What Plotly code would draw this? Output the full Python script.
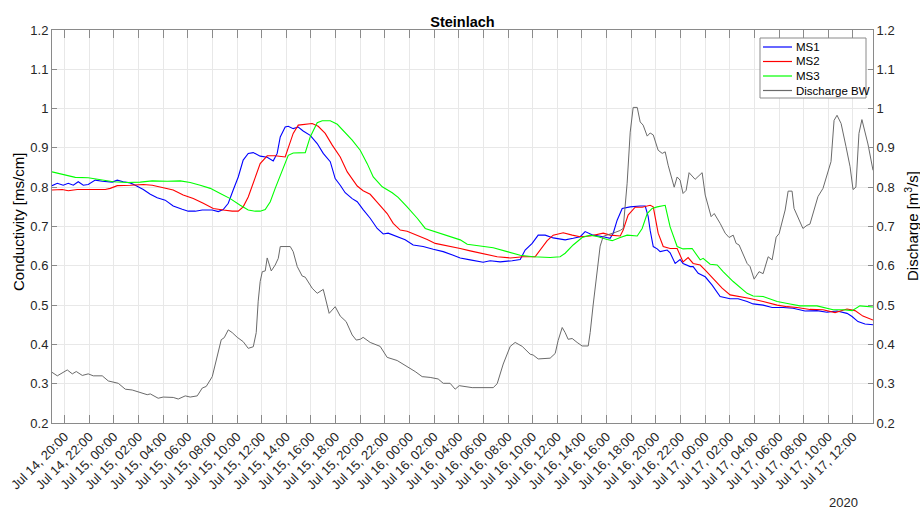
import pandas as pd
import plotly.graph_objects as go

# time axis: hours relative to 2020-07-14 20:00
BASE = "2020-07-14 20:00"

ms1_h = [-1.02, -0.59, -0.11, 0.30, 0.71, 1.11, 1.52, 1.92, 2.49, 3.06, 3.87, 4.28, 4.76, 5.33, 5.74, 6.39,
         6.96, 7.52, 8.17, 8.82, 9.55, 10.04, 10.61, 11.18, 11.99, 12.48, 12.88, 13.29, 13.69, 14.10, 14.50,
         14.91, 15.32, 15.88, 16.45, 16.94, 17.26, 17.51, 17.91, 18.16, 18.56, 18.97, 19.37, 19.94, 20.51,
         21.00, 21.57, 21.97, 22.38, 22.78, 23.35, 23.76, 24.24, 24.81, 25.38, 25.87, 26.27, 27.00, 27.65,
         28.30, 29.11, 29.93, 30.74, 31.55, 32.12, 32.93, 33.98, 34.55, 35.36, 36.34, 36.99, 37.39, 37.96,
         38.45, 39.02, 39.67, 40.64, 41.29, 41.86, 42.26, 42.51, 42.91, 43.73, 44.29, 44.54, 44.86, 45.27,
         45.92, 46.73, 47.14, 47.38, 47.54, 47.79, 48.11, 48.35, 48.92, 49.16, 49.57, 49.97, 50.21, 50.79,
         51.03, 51.44, 52.01, 52.57, 53.22, 54.03, 54.68, 55.41, 55.90, 56.71, 57.44, 58.34, 59.14, 60.11,
         61.08, 61.90, 62.71, 63.52, 63.93, 64.41, 64.98, 65.63]
ms1_v = [0.804, 0.810, 0.805, 0.810, 0.805, 0.814, 0.805, 0.807, 0.818, 0.815, 0.813, 0.818, 0.814, 0.811, 0.805, 0.794,
         0.782, 0.773, 0.767, 0.752, 0.744, 0.739, 0.739, 0.742, 0.742, 0.738, 0.743, 0.759, 0.793, 0.826, 0.869,
         0.886, 0.888, 0.879, 0.876, 0.867, 0.886, 0.928, 0.953, 0.955, 0.949, 0.953, 0.943, 0.932, 0.911,
         0.886, 0.865, 0.822, 0.805, 0.786, 0.771, 0.763, 0.743, 0.721, 0.695, 0.681, 0.683, 0.674, 0.666,
         0.653, 0.649, 0.642, 0.636, 0.627, 0.620, 0.615, 0.609, 0.613, 0.610, 0.613, 0.616, 0.640, 0.657,
         0.678, 0.678, 0.671, 0.666, 0.670, 0.674, 0.687, 0.683, 0.678, 0.674, 0.670, 0.683, 0.716, 0.746,
         0.750, 0.752, 0.752, 0.725, 0.690, 0.649, 0.643, 0.636, 0.640, 0.633, 0.606, 0.616, 0.606, 0.598,
         0.598, 0.581, 0.572, 0.551, 0.522, 0.516, 0.516, 0.509, 0.503, 0.500, 0.494, 0.494, 0.492, 0.485,
         0.486, 0.482, 0.485, 0.479, 0.471, 0.458, 0.452, 0.450]

ms2_h = [-1.02, -0.19, 0.30, 1.03, 2.09, 3.30, 3.71, 4.28, 5.33, 6.39, 7.12, 8.01, 8.82, 9.63, 10.45, 11.26,
         12.07, 12.88, 13.61, 14.10, 14.50, 14.91, 15.48, 15.88, 16.45, 17.10, 17.91, 18.16, 18.56, 18.97,
         19.54, 20.10, 20.59, 21.16, 21.73, 22.38, 22.95, 23.35, 23.76, 24.24, 24.81, 25.46, 26.19, 26.68,
         27.25, 27.81, 28.63, 29.44, 30.09, 30.74, 31.30, 32.12, 32.93, 33.98, 35.12, 36.18, 37.23, 38.20,
         38.61, 39.18, 39.67, 40.48, 41.21, 41.86, 42.67, 43.73, 44.29, 45.11, 45.35, 45.75, 46.32, 46.89,
         47.54, 47.79, 48.19, 48.60, 49.16, 49.73, 50.21, 50.62, 51.03, 51.60, 52.01, 52.65, 53.38, 54.03,
         54.84, 55.65, 56.71, 57.85, 58.66, 59.46, 60.51, 61.57, 62.55, 63.52, 64.17, 64.81, 65.63]
ms2_v = [0.793, 0.794, 0.791, 0.794, 0.794, 0.794, 0.797, 0.804, 0.805, 0.807, 0.805, 0.799, 0.793, 0.780, 0.771, 0.759,
         0.746, 0.742, 0.739, 0.739, 0.750, 0.775, 0.822, 0.860, 0.880, 0.880, 0.877, 0.898, 0.937, 0.958,
         0.960, 0.962, 0.955, 0.937, 0.907, 0.877, 0.839, 0.822, 0.803, 0.791, 0.782, 0.759, 0.733, 0.708,
         0.691, 0.688, 0.678, 0.667, 0.657, 0.653, 0.650, 0.644, 0.638, 0.630, 0.623, 0.620, 0.623, 0.623,
         0.640, 0.664, 0.678, 0.684, 0.678, 0.674, 0.676, 0.683, 0.678, 0.676, 0.691, 0.729, 0.749, 0.749,
         0.754, 0.750, 0.683, 0.649, 0.644, 0.644, 0.610, 0.621, 0.606, 0.602, 0.589, 0.568, 0.543, 0.526,
         0.522, 0.517, 0.509, 0.500, 0.496, 0.494, 0.489, 0.488, 0.481, 0.490, 0.486, 0.472, 0.462]

ms3_h = [-1.02, -0.11, 0.87, 1.92, 2.90, 3.95, 5.09, 6.14, 7.12, 8.33, 9.39, 10.20, 11.01, 11.83, 12.64, 13.45,
         14.26, 14.91, 15.48, 15.88, 16.29, 16.70, 17.10, 17.67, 18.16, 18.56, 19.54, 19.94, 20.51, 20.92,
         21.57, 22.14, 22.62, 23.35, 24.00, 24.57, 25.06, 25.79, 26.60, 27.08, 27.81, 28.63, 29.28, 30.09,
         31.06, 32.12, 32.69, 33.98, 34.80, 35.93, 36.99, 38.04, 39.42, 40.23, 40.64, 41.29, 42.02, 42.67,
         43.32, 44.05, 44.46, 45.11, 45.67, 46.49, 46.89, 47.30, 47.70, 48.11, 48.76, 49.16, 49.73, 50.21,
         50.95, 51.60, 51.84, 52.41, 52.98, 53.46, 54.28, 55.41, 55.90, 56.71, 57.85, 58.90, 59.70, 61.08,
         62.39, 63.20, 63.93, 64.57, 65.63]
ms3_v = [0.839, 0.833, 0.825, 0.824, 0.820, 0.814, 0.812, 0.813, 0.816, 0.815, 0.816, 0.812, 0.805, 0.797, 0.784, 0.771,
         0.754, 0.742, 0.739, 0.739, 0.743, 0.763, 0.797, 0.843, 0.881, 0.887, 0.888, 0.928, 0.964, 0.969,
         0.969, 0.960, 0.945, 0.920, 0.894, 0.860, 0.826, 0.801, 0.786, 0.774, 0.750, 0.721, 0.695, 0.687,
         0.678, 0.666, 0.655, 0.649, 0.646, 0.636, 0.627, 0.623, 0.621, 0.623, 0.632, 0.653, 0.672, 0.678,
         0.674, 0.667, 0.664, 0.672, 0.678, 0.676, 0.695, 0.733, 0.746, 0.750, 0.754, 0.699, 0.649, 0.643,
         0.644, 0.615, 0.619, 0.604, 0.602, 0.585, 0.560, 0.530, 0.523, 0.522, 0.509, 0.503, 0.498, 0.498,
         0.488, 0.488, 0.486, 0.498, 0.495]

q_h = [-1.02, -0.59, 0.22, 0.63, 0.95, 1.44, 1.92, 2.33, 3.06, 3.55, 4.36, 4.93, 5.49, 5.98, 6.71, 6.96, 7.60,
       8.01, 8.82, 9.23, 9.80, 10.20, 10.77, 11.18, 11.50, 11.99, 12.39, 12.72, 12.96, 13.29, 13.61, 14.02,
       14.50, 14.91, 15.32, 15.56, 15.72, 15.88, 16.05, 16.29, 16.45, 16.78, 17.10, 17.35, 17.51, 18.32,
       18.56, 18.89, 19.29, 19.54, 20.10, 20.51, 21.00, 21.24, 21.48, 21.97, 22.38, 22.86, 23.35, 23.68,
       24.00, 24.24, 24.81, 25.62, 26.19, 27.00, 27.81, 28.46, 29.03, 29.68, 30.33, 30.74, 31.30, 31.71,
       32.04, 32.69, 33.09, 34.80, 35.12, 35.61, 36.18, 36.58, 37.15, 37.80, 38.04, 38.45, 39.42, 39.83,
       40.07, 40.40, 40.64, 40.88, 41.21, 41.61, 42.02, 42.51, 42.67, 42.91, 43.24, 43.48, 43.73, 44.29,
       44.70, 45.11, 45.35, 45.67, 45.92, 46.16, 46.49, 46.73, 46.97, 47.30, 47.54, 47.79, 48.19, 48.52,
       48.76, 49.00, 49.49, 49.73, 49.97, 50.21, 50.46, 50.70, 51.19, 51.76, 52.01, 52.49, 52.74, 53.22,
       53.63, 53.95, 54.28, 54.52, 54.76, 55.41, 55.65, 55.98, 56.38, 56.71, 57.12, 57.44, 57.77, 58.01,
       58.50, 58.74, 59.06, 59.22, 59.94, 60.27, 60.51, 61.16, 61.57, 62.22, 62.47, 62.71, 63.04, 63.44,
       63.77, 64.01, 64.24, 64.49, 64.73, 65.22, 65.63]
q_v = [0.329, 0.320, 0.335, 0.325, 0.331, 0.321, 0.325, 0.320, 0.320, 0.307, 0.301, 0.286, 0.284, 0.279, 0.272, 0.274, 0.263,
       0.266, 0.265, 0.261, 0.269, 0.266, 0.269, 0.289, 0.293, 0.318, 0.369, 0.412, 0.417, 0.437, 0.430, 0.418,
       0.407, 0.390, 0.394, 0.430, 0.510, 0.560, 0.585, 0.587, 0.620, 0.587, 0.602, 0.619, 0.649, 0.649,
       0.636, 0.598, 0.574, 0.571, 0.543, 0.530, 0.540, 0.505, 0.479, 0.496, 0.472, 0.458, 0.424, 0.411,
       0.413, 0.418, 0.405, 0.395, 0.367, 0.359, 0.344, 0.331, 0.318, 0.316, 0.312, 0.301, 0.301, 0.286,
       0.295, 0.293, 0.290, 0.290, 0.300, 0.350, 0.395, 0.405, 0.395, 0.375, 0.373, 0.363, 0.365, 0.377,
       0.410, 0.443, 0.430, 0.413, 0.415, 0.405, 0.396, 0.396, 0.430, 0.500, 0.580, 0.650, 0.675, 0.680,
       0.685, 0.690, 0.695, 0.810, 0.940, 1.003, 1.003, 0.966, 0.958, 0.930, 0.938, 0.933, 0.894, 0.886,
       0.890, 0.856, 0.800, 0.826, 0.818, 0.784, 0.792, 0.837, 0.820, 0.837, 0.780, 0.725, 0.733, 0.708,
       0.683, 0.672, 0.678, 0.657, 0.653, 0.606, 0.598, 0.566, 0.585, 0.580, 0.623, 0.615, 0.673, 0.682,
       0.742, 0.790, 0.790, 0.746, 0.695, 0.703, 0.706, 0.776, 0.797, 0.865, 0.970, 0.983, 0.962, 0.903,
       0.852, 0.794, 0.800, 0.937, 0.972, 0.910, 0.843]

series_names = ["MS1", "MS2", "MS3", "Discharge BW"]
series_colors = ["#0000ff", "#ff0000", "#00ff00", "#6a6a6a"]

y_ticks = [0.2, 0.3, 0.4, 0.5, 0.6, 0.7, 0.8, 0.9, 1.0, 1.1, 1.2]
y_tick_labels = ["0.2", "0.3", "0.4", "0.5", "0.6", "0.7", "0.8", "0.9", "1", "1.1", "1.2"]

base = pd.Timestamp(BASE)


def to_time(hours):
    return [base + pd.Timedelta(hours=h) for h in hours]


x_ticks = pd.date_range("2020-07-14 20:00", "2020-07-17 12:00", freq="2h")
x_tick_labels = [t.strftime("%b %d, %H:%M") for t in x_ticks]

FONT = "Liberation Sans, Arial, sans-serif"
AX = "#8a8a8a"
GRID = "#e8e8e8"
TXT = "#262626"

fig = go.Figure()
data = [(ms1_h, ms1_v, "y"), (ms2_h, ms2_v, "y"), (ms3_h, ms3_v, "y"), (q_h, q_v, "y2")]
for (hh, vv, ax), nm, col in zip(data, series_names, series_colors):
    fig.add_trace(go.Scatter(x=to_time(hh), y=vv, mode="lines", name=nm, yaxis=ax, showlegend=False,
                             line=dict(color=col, width=1.1 if ax == "y" else 1)))

x_start = base + pd.Timedelta(hours=-1.02)
x_end = base + pd.Timedelta(hours=65.63)

# plot area: left 52, right 873, top 30, bottom 423 (px)
W, H = 920, 511
L, R, T, B = 52, 47, 30, 88
PW, PH = W - L - R, H - T - B


def px(xp):
    return (xp - L) / PW


def py(yp):
    return (H - B - yp) / PH


shapes = [dict(type="rect", xref="paper", yref="paper", x0=px(760), x1=px(866), y0=py(98), y1=py(38),
               line=dict(color="#8a8a8a", width=1), fillcolor="white", layer="above")]
annotations = []
legend_rows = [47, 61.5, 76, 90.5]
for nm, col, yr in zip(series_names, series_colors, legend_rows):
    shapes.append(dict(type="line", xref="paper", yref="paper", x0=px(763), x1=px(792), y0=py(yr), y1=py(yr),
                       line=dict(color=col, width=1.2), layer="above"))
    annotations.append(dict(text=nm, x=px(794), y=py(yr), xref="paper", yref="paper", xanchor="left",
                            yanchor="middle", showarrow=False, font=dict(size=11.5, color="#000000")))

annotations += [
    dict(text="2020", x=px(843), y=py(502), xref="paper", yref="paper", xanchor="center", yanchor="middle",
         showarrow=False, font=dict(size=13, color=TXT)),
    dict(text="Conductivity [ms/cm]", x=px(18), y=py(222), xref="paper", yref="paper", xanchor="center",
         yanchor="middle", textangle=-90, showarrow=False, font=dict(size=15, color="#000000")),
    dict(text="Discharge [m<sup>3</sup>/s]", x=px(911), y=py(226), xref="paper", yref="paper",
         xanchor="center", yanchor="middle", textangle=-90, showarrow=False, font=dict(size=15, color="#000000")),
]

fig.update_layout(
    width=W, height=H, autosize=False,
    margin=dict(l=L, r=R, t=T, b=B, autoexpand=False),
    paper_bgcolor="white", plot_bgcolor="white",
    font=dict(family=FONT, size=13, color=TXT),
    title=dict(text="<b>Steinlach</b>", x=0.5, xref="paper", xanchor="center",
               y=1 - 22 / H, yref="container", yanchor="middle",
               font=dict(size=14.5, color="#000000", family=FONT)),
    xaxis=dict(type="date", range=[x_start, x_end], tickvals=list(x_ticks), ticktext=x_tick_labels,
               tickangle=-45, ticks="inside", ticklen=8, tickcolor=AX, showline=True, linecolor=AX,
               linewidth=1, mirror="ticks", showgrid=True, gridcolor=GRID, gridwidth=1, zeroline=False,
               automargin=False, tickfont=dict(size=13, color=TXT)),
    yaxis=dict(range=[0.2, 1.2], tickvals=y_ticks, ticktext=y_tick_labels, ticks="inside", ticklen=5,
               tickcolor=AX, showline=True, linecolor=AX, linewidth=1, showgrid=True, gridcolor=GRID,
               zeroline=False, automargin=False, tickfont=dict(size=13, color=TXT)),
    yaxis2=dict(range=[0.2, 1.2], tickvals=y_ticks, ticktext=y_tick_labels, overlaying="y", side="right",
                ticks="inside", ticklen=5, tickcolor=AX, showline=True, linecolor=AX, linewidth=1,
                showgrid=False, zeroline=False, automargin=False, tickfont=dict(size=13, color=TXT)),
    showlegend=False,
    shapes=shapes,
    annotations=annotations,
)

fig.write_html("out.html", config={"displayModeBar": False},
               post_script="document.body.style.margin='0px';document.body.style.padding='0px';")
